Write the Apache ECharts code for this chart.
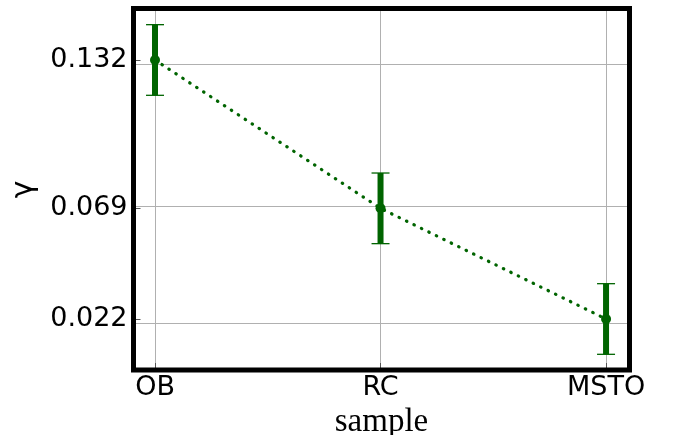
<!DOCTYPE html>
<html>
<head>
<meta charset="utf-8">
<script src="https://cdn.jsdelivr.net/npm/echarts@6/dist/echarts.min.js"></script>
<style>
  html, body { margin: 0; padding: 0; background: #fff; }
  #chart { width: 673px; height: 435px; }
</style>
</head>
<body>
<div id="chart"></div>
<script>
// Samples along the x axis
const categories = ['OB', 'RC', 'MSTO'];
// Measured gamma per sample and its uncertainty
const gammaValues = [0.132, 0.069, 0.022];
const gammaErrors = [0.015, 0.015, 0.015];
// Y tick positions
const yTicks = [0.022, 0.069, 0.132];

const GREEN = '#006400';
const idx = categories.map((_, i) => i);

const pointData = idx.map(i => [i, gammaValues[i]]);
const errData = idx.map(i => [i, gammaValues[i] - gammaErrors[i], gammaValues[i] + gammaErrors[i]]);

const chart = echarts.init(document.getElementById('chart'), null, { renderer: 'canvas' });

const gridLine = { color: '#b0b0b0', width: 1, type: 'solid' };

chart.setOption({
  animation: false,
  grid: {
    left: 133.5, right: 43.5, top: 8.5, bottom: 65,
    outerBoundsMode: 'none',
    containLabel: false,
    show: true, borderColor: '#000', borderWidth: 5, backgroundColor: 'transparent', z: 10
  },
  xAxis: {
    type: 'value',
    min: -0.0954, max: 2.104,
    name: 'sample',
    nameLocation: 'middle',
    nameGap: 30,
    nameTextStyle: { fontFamily: 'Liberation Serif', fontSize: 33, color: '#000' },
    axisLine: { show: false, onZero: false },
    splitLine: { show: false },
    axisTick: { show: true, inside: true, length: 7, customValues: idx, lineStyle: { color: '#555', width: 1 } },
    axisLabel: {
      customValues: idx,
      formatter: v => categories[Math.round(v)],
      fontFamily: 'DejaVu Sans', fontSize: 27, color: '#000', margin: 4
    }
  },
  yAxis: {
    type: 'value',
    min: 0.00034, max: 0.15387,
    name: 'γ',
    nameLocation: 'middle',
    nameRotate: 90,
    nameGap: 93,
    nameTextStyle: { fontFamily: 'DejaVu Sans', fontSize: 30, color: '#000' },
    axisLine: { show: false, onZero: false },
    splitLine: { show: false },
    axisTick: { show: true, inside: true, length: 7, customValues: yTicks, lineStyle: { color: '#555', width: 1 } },
    axisLabel: {
      customValues: yTicks,
      formatter: v => v.toFixed(3),
      fontFamily: 'DejaVu Sans', fontSize: 27, color: '#000', margin: 6
    }
  },
  series: [
    {
      // grid lines at the tick positions, kept beneath the data marks
      type: 'line',
      data: [],
      silent: true,
      z: 0,
      markLine: {
        silent: true,
        z: 0,
        symbol: 'none',
        label: { show: false },
        lineStyle: gridLine,
        data: yTicks.map(v => ({ yAxis: v })).concat(idx.map(i => ({ xAxis: i })))
      }
    },
    {
      type: 'custom',
      data: errData,
      z: 3,
      renderItem: function (params, api) {
        const x = api.value(0);
        const lo = api.coord([x, api.value(1)]);
        const hi = api.coord([x, api.value(2)]);
        const capHalf = 9;
        const barW = 6;
        return {
          type: 'group',
          children: [
            { type: 'rect', shape: { x: lo[0] - barW / 2, y: hi[1], width: barW, height: lo[1] - hi[1] },
              style: { fill: GREEN, stroke: null } },
            { type: 'line', shape: { x1: hi[0] - capHalf, y1: hi[1], x2: hi[0] + capHalf, y2: hi[1] },
              style: { stroke: GREEN, lineWidth: 1.3, fill: null } },
            { type: 'line', shape: { x1: lo[0] - capHalf, y1: lo[1], x2: lo[0] + capHalf, y2: lo[1] },
              style: { stroke: GREEN, lineWidth: 1.3, fill: null } }
          ]
        };
      }
    },
    {
      type: 'line',
      data: pointData,
      z: 4,
      symbol: 'circle',
      symbolSize: 10,
      itemStyle: { color: GREEN },
      lineStyle: { color: GREEN, width: 3.2, type: [0.5, 7.8], cap: 'round' }
    }
  ]
});
</script>
</body>
</html>
